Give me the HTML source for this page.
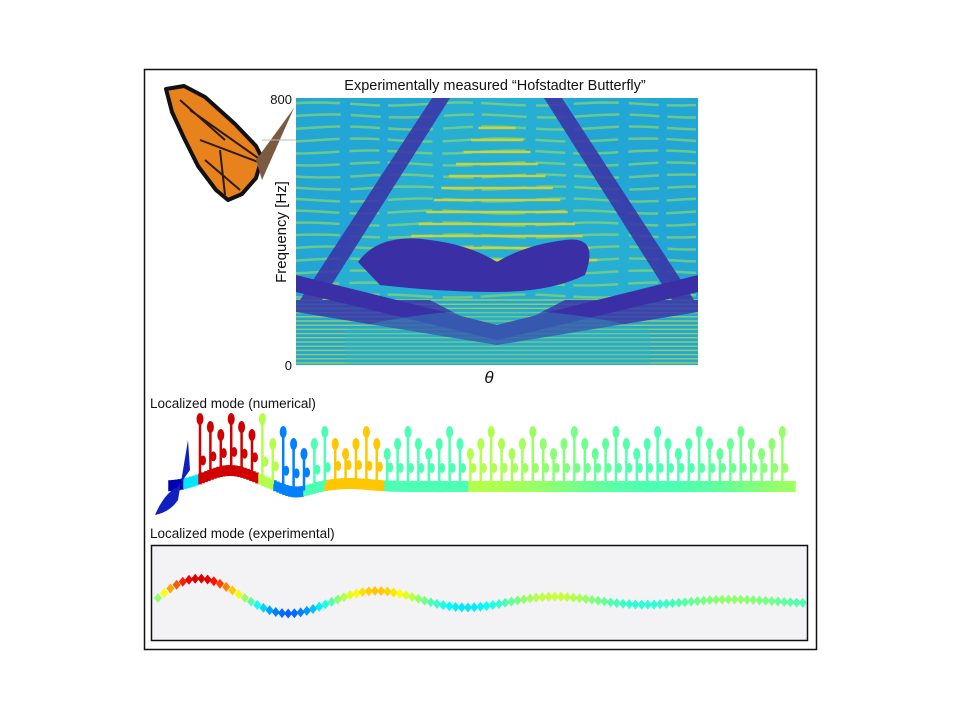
<!DOCTYPE html>
<html><head><meta charset="utf-8"><style>
body{margin:0;background:#fff;width:960px;height:720px;overflow:hidden}
svg{display:block}
text{font-family:"Liberation Sans",sans-serif}
</style></head><body>
<svg id="s" width="960" height="720" xmlns="http://www.w3.org/2000/svg">
<rect x="144.5" y="69.5" width="672" height="580" fill="#fff" stroke="#111" stroke-width="1.5"/>
<defs><clipPath id="hc"><rect x="296" y="98" width="402" height="267"/></clipPath></defs>
<g id="heat" clip-path="url(#hc)"></g>
<text x="495" y="90" font-size="14.5" text-anchor="middle" fill="#111">Experimentally measured “Hofstadter Butterfly”</text>
<text x="292" y="104" font-size="13" text-anchor="end" fill="#111">800</text>
<text x="292" y="370" font-size="13" text-anchor="end" fill="#111">0</text>
<text x="489" y="383" font-size="17" font-style="italic" text-anchor="middle" font-family="Liberation Serif" fill="#111">θ</text>
<text transform="translate(286,232) rotate(-90)" font-size="15" text-anchor="middle" fill="#111">Frequency [Hz]</text>
<g id="bf">
<polygon points="166,89 184,86 205,97 235,124 256,146 262,158 256,178 242,194 228,200 216,190 198,166 184,138 172,112" fill="#e8821c" stroke="#111" stroke-width="4" stroke-linejoin="round"/>
<path d="M190,110 L258,158 M200,140 L258,162 M205,160 L240,190 M220,150 L225,195 M180,100 L225,140" stroke="#2a1a10" stroke-width="2" fill="none"/>
<path d="M256,160 L294,108 L262,180 Z" fill="#7a5a40"/>
<line x1="262" y1="140" x2="296" y2="140" stroke="#bbb" stroke-width="1"/>
</g>
<text x="150" y="408" font-size="13.5" fill="#111">Localized mode (numerical)</text>
<g id="num"></g>
<text x="150" y="538" font-size="13.5" fill="#111">Localized mode (experimental)</text>
<rect x="151.5" y="545.5" width="656" height="95" fill="#f3f2f5" stroke="#111" stroke-width="1.5"/>
<g id="exp"></g>
</svg>
<script>
(function(){
var NS="http://www.w3.org/2000/svg";
function el(p,t,a){var e=document.createElementNS(NS,t);for(var k in a)e.setAttribute(k,a[k]);p.appendChild(e);return e;}
function jet(v){v=Math.max(0,Math.min(1,v));var r=Math.min(1,Math.max(0,1.5-Math.abs(4*v-3))),g=Math.min(1,Math.max(0,1.5-Math.abs(4*v-2))),b=Math.min(1,Math.max(0,1.5-Math.abs(4*v-1)));return "rgb("+Math.round(r*255)+","+Math.round(g*255)+","+Math.round(b*255)+")";}
var h=document.getElementById("heat");
el(h,"rect",{x:296,y:98,width:402,height:267,fill:"#22a6d6"});
el(h,"polygon",{points:"430,98 565,98 680,300 315,300",fill:"#2ab4d0",opacity:0.6});
for(var y=104;y<300;y+=12){
 var d="M296,"+y;for(var x=296;x<=700;x+=10){d+=" L"+x+","+(y+1.5*Math.sin(x/23+y));}
 el(h,"path",{d:d,stroke:"#7fcf7a",opacity:0.8,"stroke-width":2.5,fill:"none","stroke-dasharray":"45 10 30 8"});
}
for(var y=128;y<262;y+=12){var w=(y-98)*0.62;el(h,"line",{x1:497-w,y1:y,x2:497+w,y2:y,stroke:"#d8d630","stroke-width":2.5,opacity:0.9});}
for(var y=300;y<365;y+=4.2){el(h,"line",{x1:296,y1:y,x2:698,y2:y,stroke:"#b8d84a","stroke-width":1.5,opacity:0.75});}
var dk="#3b2fa6";
el(h,"polygon",{points:"432,98 450,98 322,300 300,300",fill:dk,opacity:0.85});
el(h,"polygon",{points:"562,98 544,98 672,300 694,300",fill:dk,opacity:0.85});
el(h,"polygon",{points:"296,275 497,325 698,275 698,292 497,340 296,292",fill:dk});
el(h,"polygon",{points:"296,300 430,300 497,335 565,300 698,300 698,312 497,345 296,312",fill:dk,opacity:0.8});
el(h,"path",{d:"M358,262 Q380,232 430,240 Q470,245 497,262 Q525,245 565,240 Q600,235 585,275 Q550,292 497,292 Q440,292 380,285 Z",fill:dk});
el(h,"path",{d:"M345,330 Q497,290 650,330 L650,365 L345,365Z",fill:"#30b8c0",opacity:0.3});
var n=document.getElementById("num");
function cnum(x){if(x<185)return 0.05;if(x<200)return 0.35;if(x<260)return 0.92;if(x<275)return 0.55;if(x<305)return 0.25;if(x<325)return 0.45;if(x<385)return 0.68;if(x<470)return 0.45;return 0.5+0.05*Math.sin(x/60);}
function by(x){return 486-16*Math.exp(-(x-230)*(x-230)/1200)+6*Math.exp(-(x-295)*(x-295)/400)-3*Math.exp(-(x-350)*(x-350)/800);}
for(var x=170;x<795;x+=3){el(n,"line",{x1:x,y1:by(x)-5,x2:x,y2:by(x)+6,stroke:jet(cnum(x)),"stroke-width":3.5});}
el(n,"path",{d:"M155,515 Q165,492 178,487 L190,470 L188,440 L178,500 Q170,512 155,515Z",fill:"#1020c0"});
for(var i=0;i<57;i++){var x=200+i*10.4;var tp=(i%4==0)?428:(i%2?440:450);var c=jet(cnum(x));
 if(x<265)tp=415+(i%3)*8;
 el(n,"line",{x1:x,y1:by(x),x2:x,y2:tp,stroke:c,"stroke-width":2.5});
 el(n,"ellipse",{cx:x,cy:tp+4,rx:3.5,ry:6,fill:c});
 el(n,"ellipse",{cx:x+3,cy:by(x)-18,rx:3,ry:5,fill:c});}
var e=document.getElementById("exp");
for(var x=158;x<805;x+=6.2){var t=x-158;var a=Math.exp(-t/240);var s=Math.sin(t/178*2*Math.PI);var y=602-24*a*s-4*a;
 var v=0.47+0.48*a*s+0.05*a;el(e,"polygon",{points:(x-4)+","+y+" "+x+","+(y-5)+" "+(x+4)+","+y+" "+x+","+(y+5),fill:jet(v)});}
})();
</script>
</body></html>
